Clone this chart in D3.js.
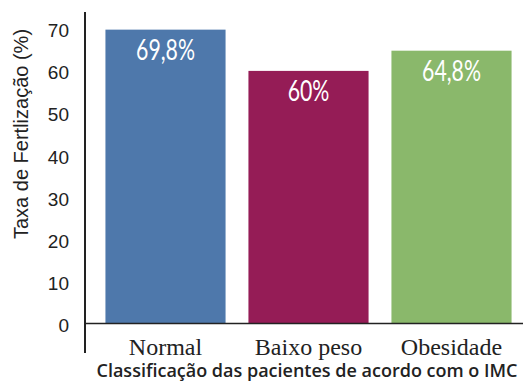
<!DOCTYPE html>
<html>
<head>
<meta charset="utf-8">
<script src="https://cdn.jsdelivr.net/npm/d3@7/dist/d3.min.js"></script>
<style>
  html, body { margin: 0; padding: 0; background: #fff; }
  svg { display: block; }
</style>
</head>
<body>
<svg id="chart" width="528" height="382"></svg>
<script>
// Fertilization rate by BMI class
const categories = ["Normal", "Baixo peso", "Obesidade"];
const values = [69.8, 60, 64.8];
const valueLabels = ["69,8%", "60%", "64,8%"];
const barColors = ["#4e78ab", "#951c56", "#8ab86b"];
const yTicks = [0, 10, 20, 30, 40, 50, 60, 70];

const svg = d3.select("#chart");
const axisX = 85;          // position of vertical axis
const plotRight = 523;
const y = d3.scaleLinear().domain([0, 70]).range([323.5, 28.8]);
const x = d3.scaleBand().domain(categories).range([94, 523]).paddingInner(0.16).paddingOuter(0.08);

// Bars
svg.selectAll("rect.bar")
  .data(values)
  .join("rect")
  .attr("class", "bar")
  .attr("x", (d, i) => x(categories[i]))
  .attr("width", x.bandwidth())
  .attr("y", d => y(d))
  .attr("height", d => y(0) - y(d))
  .attr("fill", (d, i) => barColors[i]);

// Value labels inside bars
svg.selectAll("text.val")
  .data(values)
  .join("text")
  .attr("class", "val")
  .attr("transform", (d, i) => {
    const cx = x(categories[i]) + x.bandwidth() / 2;
    return `translate(${cx},${y(d) + 30}) scale(0.76,1)`;
  })
  .attr("text-anchor", "middle")
  .attr("fill", "#fff")
  .style("font-family", "Lato, 'Open Sans', sans-serif")
  .style("font-size", "28px")
  .text((d, i) => valueLabels[i]);

// Y axis (labels only, no tick marks)
const yAxis = d3.axisLeft(y).tickValues(yTicks).tickSize(0).tickPadding(16).tickFormat(d3.format("d"));
const gy = svg.append("g").attr("transform", `translate(${axisX},0)`).call(yAxis);
gy.select(".domain").remove();
gy.selectAll("text")
  .attr("dy", "0.42em")
  .attr("fill", "#222")
  .style("font-family", "'Liberation Sans', Arial, sans-serif")
  .style("font-size", "19px");

// Vertical axis line
svg.append("line")
  .attr("x1", axisX).attr("x2", axisX)
  .attr("y1", 12).attr("y2", 353)
  .attr("stroke", "#222").attr("stroke-width", 2);

// Baseline at zero
svg.append("line")
  .attr("x1", axisX).attr("x2", plotRight)
  .attr("y1", y(0)).attr("y2", y(0))
  .attr("stroke", "#222").attr("stroke-width", 1.5);

// Category labels
svg.selectAll("text.cat")
  .data(categories)
  .join("text")
  .attr("class", "cat")
  .attr("x", d => x(d) + x.bandwidth() / 2)
  .attr("y", 355)
  .attr("text-anchor", "middle")
  .attr("fill", "#222")
  .style("font-family", "'Liberation Serif', 'Times New Roman', serif")
  .style("font-size", "24px")
  .text(d => d);

// X axis title
svg.append("text")
  .attr("x", 307)
  .attr("y", 377)
  .attr("text-anchor", "middle")
  .attr("fill", "#222")
  .style("font-family", "'Open Sans', sans-serif")
  .style("font-weight", "600")
  .style("font-size", "18px")
  .text("Classificação das pacientes de acordo com o IMC");

// Y axis title
svg.append("text")
  .attr("transform", "translate(28,134) rotate(-90)")
  .attr("text-anchor", "middle")
  .attr("fill", "#222")
  .style("font-family", "'Liberation Sans', Arial, sans-serif")
  .style("font-size", "20px")
  .text("Taxa de Fertlização (%)");
</script>
</body>
</html>
